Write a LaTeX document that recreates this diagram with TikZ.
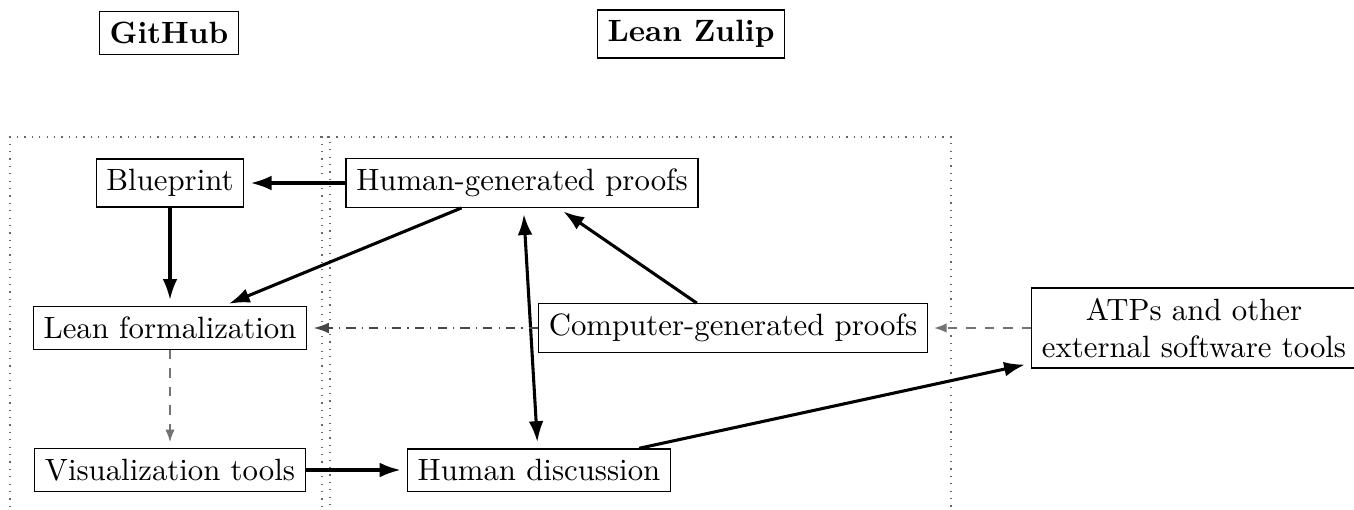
\documentclass[tikz,border=0pt]{standalone}
\usetikzlibrary{arrows.meta}
\begin{document}
\begin{tikzpicture}[x=0.3247pt,y=-0.3247pt,
  box/.style={draw, line width=0.4pt, inner sep=3.33pt},
  titlebox/.style={draw, line width=0.4pt, inner sep=3.33pt, font=\bfseries},
  region/.style={dotted, line width=0.4pt, black!60},
  strong/.style={line width=1pt, -{Latex[length=6.8pt,width=4.8pt]}, shorten >=2pt},
  strongboth/.style={line width=1pt, {Latex[length=6.8pt,width=4.8pt]}-{Latex[length=6.8pt,width=4.8pt]}, shorten >=2pt, shorten <=2pt},
  weak/.style={dashed, line width=0.4pt, black!55, -{Latex[length=4pt,width=3pt]}, shorten >=2pt},
  dashdotarrow/.style={dash dot, line width=0.6pt, black!72, -{Latex[length=5pt,width=3.5pt]}, shorten >=2pt}
]
\useasboundingbox (0,0) rectangle (1354,509);

% regions (open at the bottom)
\coordinate (gl) at (10,507);
\coordinate (gr) at (330,507);
\coordinate (zl) at (322,507);
\coordinate (zr) at (951,507);
\draw[region] (gl) -- (10,137) -- (330,137) -- (gr);
\draw[region] (zl) -- (322,137) -- (951,137) -- (zr);

% titles
\node[titlebox] (github) at (169,33) {GitHub};
\node[titlebox] (zulip) at (691,34) {Lean Zulip};

% nodes
\node[box] (blueprint) at (170,183) {Blueprint};
\node[box] (hgp) at (522,183) {Human-generated proofs};
\node[box] (lean) at (170,328) {Lean formalization};
\node[box] (cgp) at (733,328) {Computer-generated proofs};
\node[box, align=center] (atp) at (1194,328) {ATPs and other\\external software tools};
\node[box] (vis) at (170,470) {Visualization tools};
\node[box] (disc) at (539,470) {Human discussion};

% connectors
\draw[strong] (hgp) -- (blueprint);
\draw[strong] (blueprint) -- (lean);
\draw[strong] (hgp) -- (lean);
\draw[strong] (cgp) -- (hgp);
\draw[strongboth] (hgp) -- (disc);
\draw[dashdotarrow] (cgp) -- (lean);
\draw[weak] (atp) -- (cgp);
\draw[weak] (lean) -- (vis);
\draw[strong] (vis) -- (disc);
\draw[strong] (disc) -- (atp);
\end{tikzpicture}
\end{document}
